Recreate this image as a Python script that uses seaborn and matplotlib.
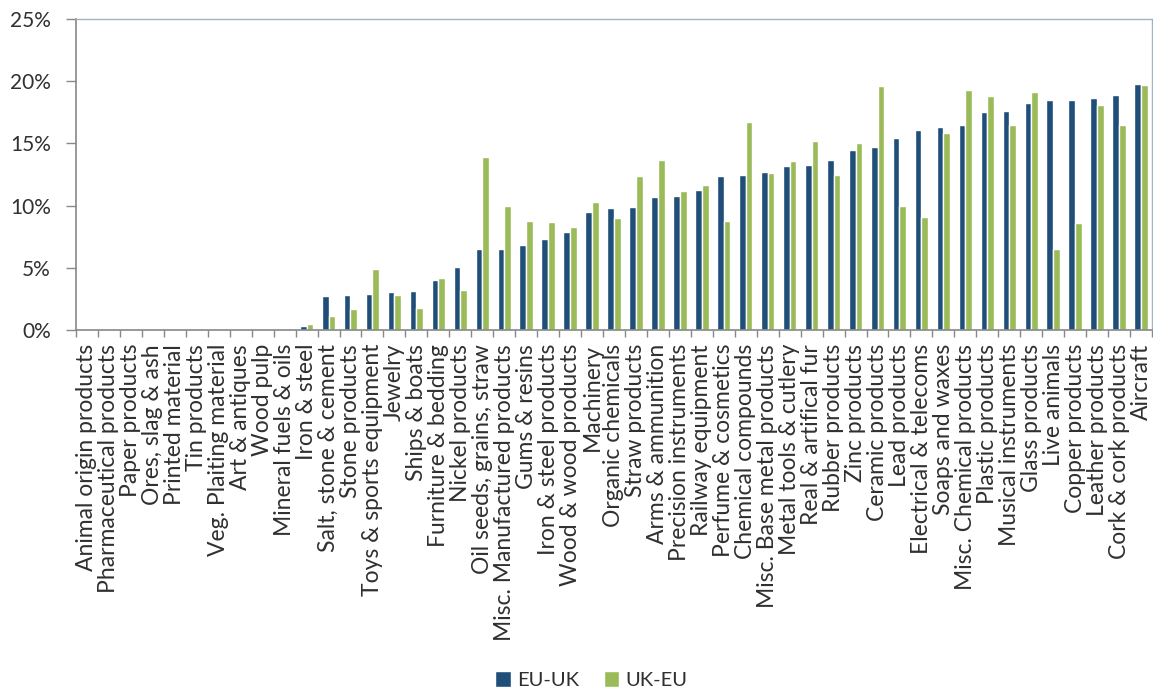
import matplotlib
matplotlib.use("Agg")
import matplotlib.pyplot as plt
import seaborn as sns
import pandas as pd
import numpy as np
from matplotlib.ticker import FixedLocator, PercentFormatter

categories = [
    "Animal origin products", "Pharmaceutical products", "Paper products",
    "Ores, slag & ash", "Printed material", "Tin products",
    "Veg. Plaiting material", "Art & antiques", "Wood pulp",
    "Mineral fuels & oils", "Iron & steel", "Salt, stone & cement",
    "Stone products", "Toys & sports equipment", "Jewelry", "Ships & boats",
    "Furniture & bedding", "Nickel products", "Oil seeds, grains, straw",
    "Misc. Manufactured products", "Gums & resins", "Iron & steel products",
    "Wood & wood products", "Machinery", "Organic chemicals", "Straw products",
    "Arms & ammunition", "Precision instruments", "Railway equipment",
    "Perfume & cosmetics", "Chemical compounds", "Misc. Base metal products",
    "Metal tools & cutlery", "Real & artifical fur", "Rubber products",
    "Zinc products", "Ceramic products", "Lead products",
    "Electrical & telecoms", "Soaps and waxes", "Misc. Chemical products",
    "Plastic products", "Musical instruments", "Glass products",
    "Live animals", "Copper products", "Leather products",
    "Cork & cork products", "Aircraft",
]

eu_uk = [0.0, 0.0, 0.0, 0.0, 0.0, 0.0, 0.0, 0.0, 0.0,
         0.12, 0.3, 2.7, 2.8, 2.9, 3.03, 3.15, 4.05, 5.1, 6.5,
         6.5, 6.85, 7.35, 7.9, 9.45, 9.8, 9.9, 10.7, 10.75, 11.25,
         12.4, 12.45, 12.7, 13.15, 13.25, 13.65, 14.5, 14.7, 15.45,
         16.1, 16.35, 16.45, 17.5, 17.6, 18.25, 18.45, 18.5, 18.65,
         18.9, 19.8]

uk_eu = [0.0, 0.0, 0.0, 0.0, 0.0, 0.0, 0.0, 0.0, 0.0,
         0.05, 0.45, 1.1, 1.7, 4.9, 2.8, 1.8, 4.2, 3.2, 13.9,
         10.0, 8.75, 8.67, 8.3, 10.3, 9.0, 12.35, 13.7, 11.15, 11.65,
         8.75, 16.7, 12.6, 13.55, 15.2, 12.5, 15.0, 19.6, 9.95,
         9.1, 15.8, 19.3, 18.8, 16.5, 19.15, 6.5, 8.6, 18.1,
         16.45, 19.7]

series_names = ["EU-UK", "UK-EU"]
colors = ["#1F4E79", "#9BBB59"]
y_ticks = [0, 5, 10, 15, 20, 25]

df = pd.DataFrame({
    "category": categories * 2,
    "value": eu_uk + uk_eu,
    "series": [series_names[0]] * len(categories) + [series_names[1]] * len(categories),
})

sns.set_theme(style="white")
plt.rcParams["font.family"] = ["Lato", "DejaVu Sans"]

fig = plt.figure(figsize=(11.53, 6.91), dpi=100)
ax = fig.add_axes([76 / 1153, 1 - 330 / 691, (1152 - 76) / 1153, (330 - 19) / 691])

sns.barplot(data=df, x="category", y="value", hue="series",
            palette=colors, width=0.61, saturation=1, ax=ax,
            order=categories, hue_order=series_names, legend=True)

n = len(categories)
ax.set_xlim(-0.5, n - 0.5)
ax.set_ylim(0, 25)
ax.set_yticks(y_ticks)
ax.yaxis.set_major_formatter(PercentFormatter(decimals=0))
ax.set_xlabel("")
ax.set_ylabel("")

text_color = "#303030"
ax.set_xticks(range(n))
ax.set_xticklabels(categories, rotation=90, fontsize=16.5, color=text_color)
ax.xaxis.set_minor_locator(FixedLocator(np.arange(-0.5, n, 1.0)))
ax.tick_params(axis="x", which="major", length=0, pad=10)
ax.tick_params(axis="x", which="minor", length=5, width=1, color="#888888", direction="out", bottom=True)
ax.tick_params(axis="y", which="major", length=7, width=1, color="#888888", direction="out", left=True,
               labelsize=15, labelcolor=text_color, pad=11)

for side in ["left", "bottom"]:
    ax.spines[side].set_color("#888888")
    ax.spines[side].set_linewidth(1.2)
for side in ["top", "right"]:
    ax.spines[side].set_visible(True)
    ax.spines[side].set_color("#9fb3c4")
    ax.spines[side].set_linewidth(1.0)

leg = ax.legend(loc="center", bbox_to_anchor=(591.5 / 1153, 1 - 680 / 691), bbox_transform=fig.transFigure,
                ncol=2, frameon=False, fontsize=14.5, handlelength=0.8, handleheight=0.8,
                handletextpad=0.3, columnspacing=1.2, borderaxespad=0, borderpad=0)
for t in leg.get_texts():
    t.set_color(text_color)
for h in leg.legend_handles:
    h.set_width(11)
    h.set_height(11)

fig.savefig("out.png", dpi=100)
